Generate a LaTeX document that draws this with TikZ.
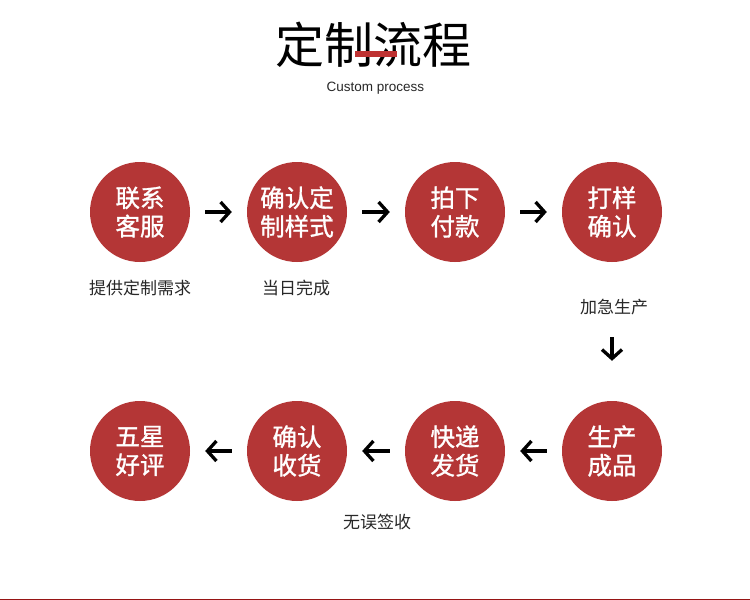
\documentclass[tikz,border=0pt]{standalone}
\usepackage{fontspec}
\setmainfont{Liberation Sans}
\newfontfamily\cjk{Noto Sans CJK SC}
\newfontfamily\cjkb[FakeBold=1.2]{Noto Sans CJK SC}
\usetikzlibrary{arrows.meta}
\definecolor{cred}{RGB}{180,54,54}
\definecolor{lblgray}{RGB}{40,40,40}
\definecolor{barred}{RGB}{190,50,50}
\definecolor{lineRed}{RGB}{150,20,20}
\begin{document}
\begin{tikzpicture}[x=1pt,y=-1pt,
  stepcircle/.style={circle,fill=cred,minimum size=100pt,inner sep=0pt,text=white,align=center,font={\cjkb\fontsize{24.5}{28.5}\selectfont}},
  lbl/.style={text=lblgray,inner sep=0pt,font={\cjk\fontsize{17}{18}\selectfont}},
  arr/.style={line width=3.3pt,-{Straight Barb[length=9pt,width=20pt]},shorten <=15pt,shorten >=15pt}
]
\fill[white] (0,0) rectangle (750,600);
\useasboundingbox (0,0) rectangle (750,600);
% title
\node[inner sep=0pt,font={\cjk\fontsize{49}{52}\selectfont}] (title) at (373,45) {定制流程};
\fill[barred] (355,51) rectangle (397,57);
\node[inner sep=0pt,font={\fontsize{13.5}{15}\selectfont},text=lblgray] (sub) at (375.5,88) {Custom process};
% circles row 1
\node[stepcircle] (c1) at (140,212) {联系\\客服};
\node[stepcircle] (c2) at (297,212) {确认定\\制样式};
\node[stepcircle] (c3) at (455,212) {拍下\\付款};
\node[stepcircle] (c4) at (612,212) {打样\\确认};
% circles row 2
\node[stepcircle] (c5) at (140,451) {五星\\好评};
\node[stepcircle] (c6) at (297,451) {确认\\收货};
\node[stepcircle] (c7) at (455,451) {快递\\发货};
\node[stepcircle] (c8) at (612,451) {生产\\成品};
% labels
\node[lbl] (l1) at (140,288) {提供定制需求};
\node[lbl] (l2) at (296,288) {当日完成};
\node[lbl] (l3) at (614,307) {加急生产};
\node[lbl] (l4) at (377,522) {无误签收};
% arrows
\draw[arr] (c1) -- (c2);
\draw[arr] (c2) -- (c3);
\draw[arr] (c3) -- (c4);
\draw[arr,shorten <=75pt,shorten >=40pt] (c4) -- (c8);
\draw[arr] (c8) -- (c7);
\draw[arr] (c7) -- (c6);
\draw[arr] (c6) -- (c5);
% bottom line
\draw[lineRed,line width=1.5pt] (0,599.25) -- (750,599.25);
\end{tikzpicture}
\end{document}
